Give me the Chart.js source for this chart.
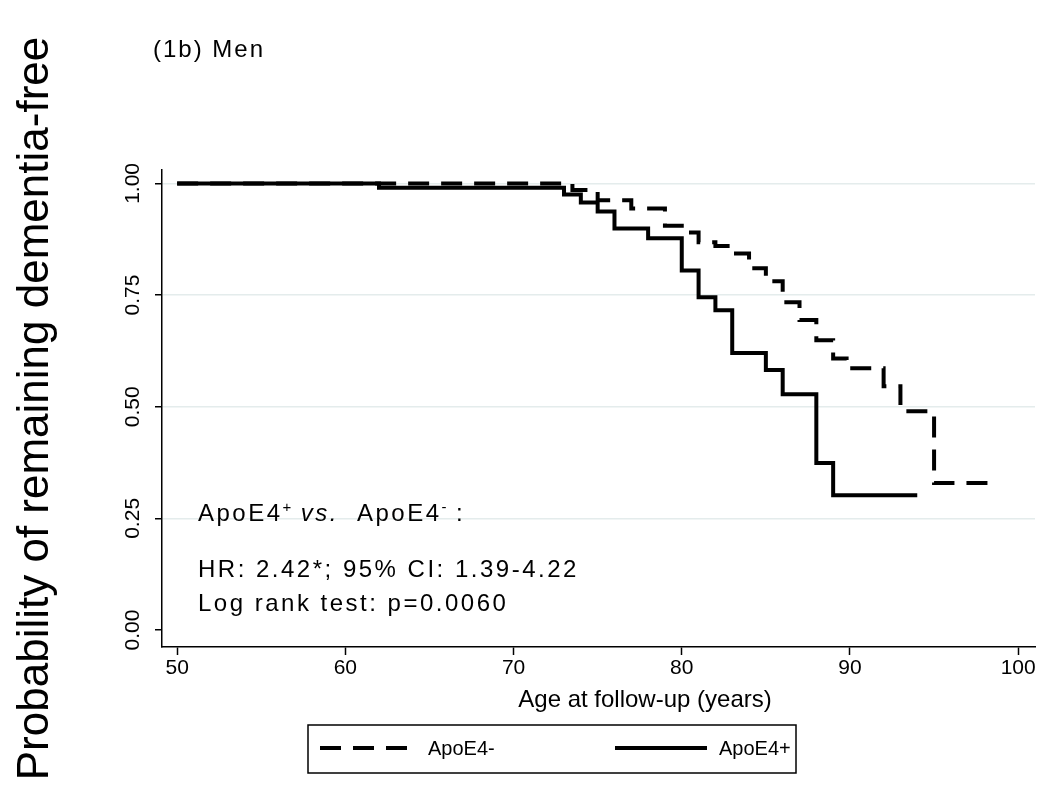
<!DOCTYPE html>
<html>
<head>
<meta charset="utf-8">
<script src="https://cdn.jsdelivr.net/npm/chart.js@4.4.1/dist/chart.umd.min.js"></script>
<style>
html,body{margin:0;padding:0;background:#ffffff;}
canvas{display:block;}
</style>
</head>
<body>
<canvas id="c" width="1050" height="786"></canvas>
<script>
// ---------------- data ----------------
const chartTitle = '(1b) Men';
const yAxisTitle = 'Probability of remaining dementia-free';
const xAxisTitle = 'Age at follow-up (years)';
const seriesNames = ['ApoE4-', 'ApoE4+'];
const xTickValues = [50, 60, 70, 80, 90, 100];
const yTickValues = [0, 0.25, 0.5, 0.75, 1];

// ApoE4- (dashed) Kaplan-Meier steps
const ageNeg  = [50, 73.5, 75, 77, 79, 80, 81, 82, 83, 84, 85, 86, 87, 88, 89, 89.8, 92, 93, 95, 98.3];
const survNeg = [1.0, 0.985, 0.962, 0.944, 0.905, 0.89, 0.868, 0.86, 0.843, 0.81, 0.781, 0.734, 0.694, 0.649, 0.608, 0.586, 0.546, 0.49, 0.329, 0.329];

// ApoE4+ (solid) Kaplan-Meier steps
const agePos  = [50, 62, 73, 74, 75, 76, 78, 80, 81, 82, 83, 85, 86, 88, 89, 94];
const survPos = [1.0, 0.99, 0.975, 0.957, 0.937, 0.899, 0.877, 0.805, 0.745, 0.716, 0.620, 0.582, 0.528, 0.374, 0.302, 0.302];

const statHeader = ['ApoE4', '+', 'vs.', 'ApoE4', '-', ':'];
const statLines = ['HR: 2.42*; 95% CI: 1.39-4.22', 'Log rank test: p=0.0060'];

// ---------------- chart ----------------
const FONT = '"Liberation Sans", Arial, Helvetica, sans-serif';

const toPoints = (xs, ys) => xs.map((x, i) => ({x: x, y: ys[i]}));

const whiteBg = {
  id: 'whiteBg',
  beforeDraw(chart) {
    const c = chart.ctx;
    c.save();
    c.fillStyle = '#ffffff';
    c.fillRect(0, 0, chart.width, chart.height);
    c.restore();
  }
};

const annotations = {
  id: 'annotations',
  afterDraw(chart) {
    const c = chart.ctx;
    c.save();
    c.fillStyle = '#000';
    c.textBaseline = 'alphabetic';
    c.textAlign = 'left';

    // title
    c.letterSpacing = '2px';
    c.font = '24px ' + FONT;
    c.fillText(chartTitle, 153, 57);

    // x axis title
    c.letterSpacing = '0px';
    c.textAlign = 'center';
    c.textBaseline = 'middle';
    c.font = '24px ' + FONT;
    c.fillText(xAxisTitle, 645, 700);
    c.textAlign = 'left';
    c.textBaseline = 'alphabetic';

    // stats block
    c.letterSpacing = '2.5px';
    const base = '24px ' + FONT;
    const sup = '15px ' + FONT;
    const ital = 'italic 24px ' + FONT;
    let x = 198, y = 521;
    const seg = (t, f, dy, after) => {
      c.font = f;
      c.fillText(t, x, y + dy);
      x += c.measureText(t).width + after;
    };
    seg(statHeader[0], base, 0, 0);
    seg(statHeader[1], sup, -9, 7);
    seg(statHeader[2], ital, 0, 18);
    seg(statHeader[3], base, 0, 0);
    seg(statHeader[4], sup, -9, 7);
    seg(statHeader[5], base, 0, 0);

    c.font = base;
    c.fillText(statLines[0], 198, 577);
    c.fillText(statLines[1], 198, 611);

    // legend box
    c.letterSpacing = '0px';
    c.strokeStyle = '#000';
    c.lineWidth = 1.5;
    c.strokeRect(308, 725, 488, 48);
    const ds = chart.data.datasets;
    const samples = [[320, 408, 428], [615, 707, 719]];
    ds.forEach((d, i) => {
      const s = samples[i];
      c.save();
      c.strokeStyle = d.borderColor;
      c.lineWidth = d.borderWidth;
      c.setLineDash(d.borderDash || []);
      c.beginPath();
      c.moveTo(s[0], 748);
      c.lineTo(s[1], 748);
      c.stroke();
      c.restore();
      c.font = '20px ' + FONT;
      c.fillText(d.label, s[2], 755);
    });
    c.restore();
  }
};

new Chart(document.getElementById('c'), {
  type: 'line',
  data: {
    datasets: [
      {
        label: seriesNames[0],
        data: toPoints(ageNeg, survNeg),
        borderColor: '#000',
        borderWidth: 4,
        borderDash: [21, 12],
        stepped: 'before',
        pointRadius: 0,
        fill: false
      },
      {
        label: seriesNames[1],
        data: toPoints(agePos, survPos),
        borderColor: '#000',
        borderWidth: 4,
        stepped: 'before',
        pointRadius: 0,
        fill: false
      }
    ]
  },
  options: {
    responsive: false,
    animation: false,
    events: [],
    layout: {padding: {left: 0, right: 15, top: 170, bottom: 69}},
    plugins: {
      legend: {display: false},
      title: {display: false},
      tooltip: {enabled: false}
    },
    scales: {
      x: {
        type: 'linear',
        min: 49.1,
        max: 101,
        afterBuildTicks: (axis) => { axis.ticks = xTickValues.map(v => ({value: v})); },
        afterFit: (axis) => { axis.height = 70; },
        grid: {drawOnChartArea: false, drawTicks: true, tickLength: 8, tickColor: '#000', tickWidth: 1.5},
        border: {display: true, color: '#000', width: 1.5},
        ticks: {
          color: '#000',
          font: {family: FONT, size: 21},
          padding: 1,
          maxRotation: 0,
          autoSkip: false,
          callback: (v) => String(v)
        },
        title: {display: false, text: xAxisTitle}
      },
      y: {
        type: 'linear',
        min: -0.038,
        max: 1.03,
        afterBuildTicks: (axis) => { axis.ticks = yTickValues.map(v => ({value: v})); },
        afterFit: (axis) => { axis.width = 162; },
        grid: {
          color: (ctx) => (ctx.tick && ctx.tick.value === 0) ? 'rgba(0,0,0,0)' : '#e4ecec',
          lineWidth: 1.5,
          drawTicks: true,
          tickLength: 7,
          tickColor: '#000',
          tickWidth: 1.5
        },
        border: {display: true, color: '#000', width: 1.5},
        ticks: {
          color: '#000',
          font: {family: FONT, size: 21},
          minRotation: 90,
          maxRotation: 90,
          crossAlign: 'center',
          padding: 1,
          autoSkip: false,
          callback: (v) => Number(v).toFixed(2)
        },
        title: {
          display: true,
          text: yAxisTitle,
          color: '#000',
          font: {family: FONT, size: 44},
          padding: {top: 9, bottom: 0}
        }
      }
    }
  },
  plugins: [whiteBg, annotations]
});
</script>
</body>
</html>
